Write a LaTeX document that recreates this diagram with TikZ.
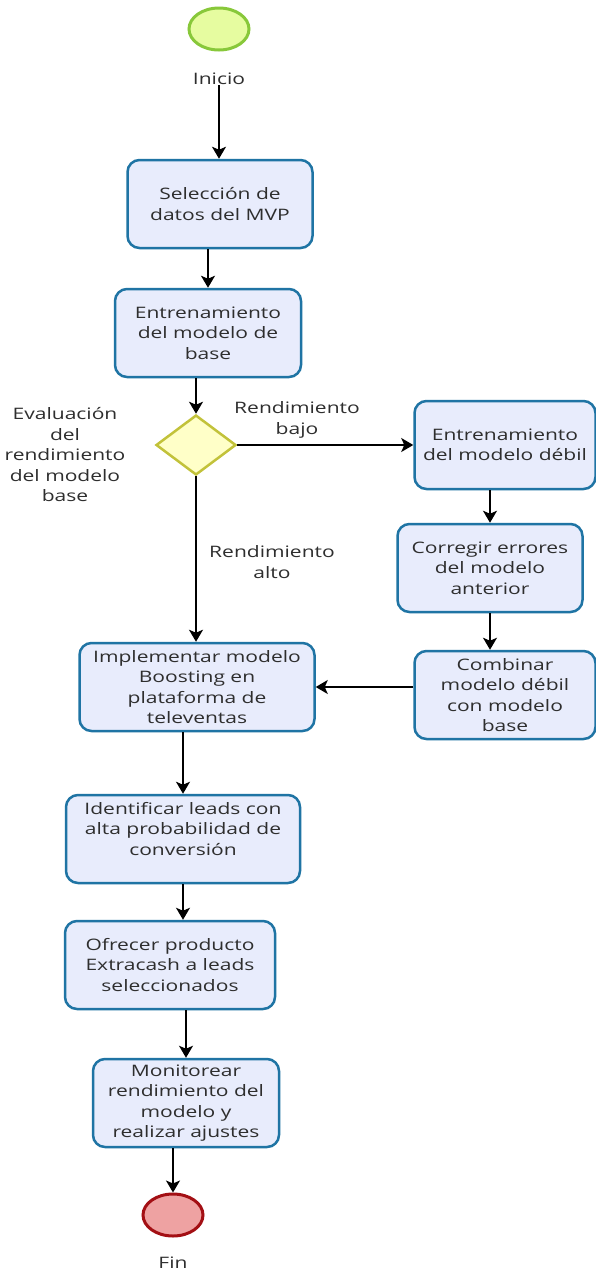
\documentclass[tikz,border=0pt]{standalone}
\usepackage{fontspec}
\setmainfont{Open Sans}[FakeStretch=1.33]
\usetikzlibrary{arrows.meta,shapes.geometric}
\definecolor{boxfill}{HTML}{E8ECFC}
\definecolor{boxdraw}{HTML}{1F74A4}
\definecolor{txt}{HTML}{2E2E2E}
\definecolor{startfill}{HTML}{E6FCA0}
\definecolor{startdraw}{HTML}{88C83A}
\definecolor{endfill}{HTML}{EEA2A2}
\definecolor{enddraw}{HTML}{A30F14}
\definecolor{dfill}{HTML}{FFFFC8}
\definecolor{ddraw}{HTML}{C2C23A}
\begin{document}
\begin{tikzpicture}[x=1pt,y=-1pt,
  every node/.style={text=txt,font=\fontsize{15.8}{20.5}\selectfont,align=center,inner sep=0pt},
  task/.style={draw=boxdraw,fill=boxfill,line width=2.5pt,rounded corners=12pt,minimum width=#1,minimum height=88pt},
  task/.default=185pt,
  lbl/.style={},
  arr/.style={line width=1.5pt,-{Stealth[length=12pt,width=14pt,inset=3pt]}}]
\path[use as bounding box,fill=white] (0,0) rectangle (596,1275);
% events
\node[ellipse,draw=startdraw,fill=startfill,line width=3pt,minimum width=60pt,minimum height=42pt] (s) at (219,29) {};
\node[lbl] (sl) at (219,79) {Inicio};
\node[ellipse,draw=enddraw,fill=endfill,line width=3pt,minimum width=60pt,minimum height=42pt] (e) at (173,1215) {};
\node[lbl] (el) at (173,1263) {Fin};
% tasks
\node[task=185pt] (b1) at (220,204) {Selección de\\datos del MVP};
\node[task=186pt] (b2) at (208,333) {Entrenamiento\\del modelo de\\base};
\node[diamond,draw=ddraw,fill=dfill,line width=2.5pt,minimum width=80pt,minimum height=60pt,aspect=1.35] (d) at (196,445) {};
\node[lbl] (dl) at (65,455) {Evaluación\\del\\rendimiento\\del modelo\\base};
\node[task=181pt] (b3) at (505,445) {Entrenamiento\\del modelo débil};
\node[task=185pt] (b4) at (490,568) {Corregir errores\\del modelo\\anterior};
\node[task=181pt] (b5) at (505,695) {Combinar\\modelo débil\\con modelo\\base};
\node[task=235pt] (b6) at (197,687) {Implementar modelo\\Boosting en\\plataforma de\\televentas};
\node[task=234pt] (b7) at (183,839) {Identificar leads con\\alta probabilidad de\\conversión\\\mbox{}};
\node[task=210pt] (b8) at (170,965) {Ofrecer producto\\Extracash a leads\\seleccionados};
\node[task=186pt] (b9) at (186,1103) {Monitorear\\rendimiento del\\modelo y\\realizar ajustes};
% edge labels
\node[lbl] (lb) at (297,420) {Rendimiento\\bajo};
\node[lbl] (la) at (272,562) {Rendimiento\\alto};
% connectors
\draw[arr] (sl.south) -- (sl.south |- b1.north);
\draw[arr] (b1.south -| b2.north) -- (b2.north);
\draw[arr] (b2.south -| d.north) -- (d.north);
\draw[arr] (d.east) -- (d.east -| b3.west);
\draw[arr] (d.south) -- (d.south |- b6.north);
\draw[arr] (b3.south -| b4.north) -- (b4.north);
\draw[arr] (b4.south) -- (b4.south |- b5.north);
\draw[arr] (b5.west |- b6.east) -- (b6.east);
\draw[arr] (b6.south -| b7.north) -- (b7.north);
\draw[arr] (b7.south) -- (b7.south |- b8.north);
\draw[arr] (b8.south -| b9.north) -- (b9.north);
\draw[arr] (b9.south -| e.north) -- (e.north);
\end{tikzpicture}
\end{document}
